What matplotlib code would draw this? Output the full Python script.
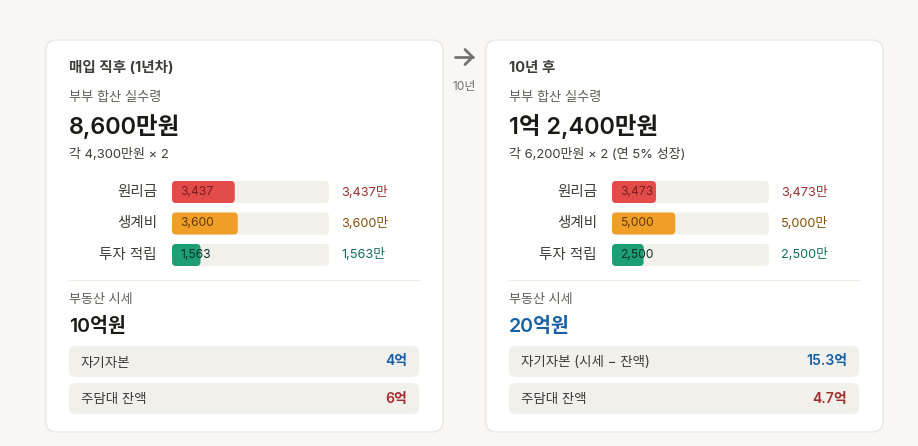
import matplotlib
matplotlib.use("Agg")
import matplotlib.pyplot as plt
from matplotlib.patches import FancyBboxPatch

plt.rcParams['font.family'] = ['Inter', 'Noto Sans CJK KR', 'DejaVu Sans']

# ---- data ----
card_titles = ["매입 직후 (1년차)", "10년 후"]
income_label = "부부 합산 실수령"
income_totals = [8600, 12400]
income_texts = ["8,600만원", "1억 2,400만원"]
income_subs = ["각 4,300만원 × 2", "각 6,200만원 × 2 (연 5% 성장)"]
categories = ["원리금", "생계비", "투자 적립"]
values_start = [3437, 3600, 1563]
values_after = [3473, 5000, 2500]
estate_label = "부동산 시세"
estate_texts = ["10억원", "20억원"]
equity_labels = ["자기자본", "자기자본 (시세 − 잔액)"]
equity_values = ["4억", "15.3억"]
loan_label = "주담대 잔액"
loan_values = ["6억", "4.7억"]
arrow_label = "10년"

# ---- styles ----
BG = "#F8F7F4"
CARD = "#FFFFFF"
EDGE = "#E6E4DD"
TRACK = "#F2F0EA"
bar_colors = ["#E24B4A", "#EF9F27", "#1D9E75"]
inner_colors = ["#791F1F", "#633806", "#04342C"]
value_colors = ["#A32D2D", "#854F0B", "#0F6E56"]
BLUE = "#185FA5"
RED = "#A32D2D"
DARK = "#1A1A18"
MID = "#3D3D3A"
GRAY = "#5F5E5A"

W, H = 918, 446
fig = plt.figure(figsize=(W / 100, H / 100), dpi=100, facecolor=BG)
ax = fig.add_axes([0, 0, 1, 1])
ax.set_xlim(0, W)
ax.set_ylim(H, 0)
ax.axis("off")

card_x = [46, 486]
card_w = 397
card_top, card_bot = 40, 432

def px(v):
    return v * 0.72  # pixel -> points at dpi 100

for c in range(2):
    x0 = card_x[c]
    ax.add_patch(FancyBboxPatch((x0, card_top), card_w, card_bot - card_top,
                                boxstyle="round,pad=0,rounding_size=11",
                                fc=CARD, ec=EDGE, lw=0.8, zorder=1))
    lx = x0 + 23
    ax.text(lx, 68, card_titles[c], fontsize=px(14.6), color=MID,
            fontweight="bold", va="center", ha="left", zorder=3)
    ax.text(lx, 98, income_label, fontsize=px(13.2), color=GRAY,
            va="center", ha="left", zorder=3)
    ax.text(lx, 127, income_texts[c], fontsize=px(23.5), color=DARK,
            fontweight=600, va="center", ha="left", zorder=3)
    ax.text(lx, 154, income_subs[c], fontsize=px(13), color=MID,
            va="center", ha="left", zorder=3)

    # bar chart axes
    vals = values_start if c == 0 else values_after
    total = income_totals[c]
    track_x0 = x0 + 126
    track_w = 157
    pitch = 31.5
    top = 192 - pitch / 2
    bax = fig.add_axes([track_x0 / W, 1 - (top + 3 * pitch) / H,
                        track_w / W, 3 * pitch / H])
    bax.set_xlim(0, total)
    bax.set_ylim(2.5, -0.5)
    bax.axis("off")
    bh = 22 / pitch
    xu = total / track_w
    yu = 1 / pitch
    tracks = bax.barh(range(3), [total] * 3, height=bh)
    bars = bax.barh(range(3), vals, height=bh)
    for group, colors, z in ((tracks, [TRACK] * 3, 1), (bars, bar_colors, 2)):
        for rect, col in zip(group, colors):
            rect.set_visible(False)
            bax.add_patch(FancyBboxPatch((rect.get_x(), rect.get_y()),
                                         rect.get_width(), rect.get_height(),
                                         boxstyle=f"round,pad=0,rounding_size={4 * xu}",
                                         mutation_aspect=yu / xu,
                                         fc=col, ec="none", zorder=z))
    for i, (cat, v) in enumerate(zip(categories, vals)):
        bax.annotate(cat, xy=(0, i), xytext=(-15, 0), textcoords="offset pixels",
                     ha="right", va="center", fontsize=px(14.5), color=MID,
                     annotation_clip=False)
        bax.annotate(f"{v:,}", xy=(0, i), xytext=(8, 0), textcoords="offset pixels",
                     ha="left", va="center", fontsize=px(12.1), color=inner_colors[i],
                     zorder=4, annotation_clip=False)
        bax.annotate(f"{v:,}만", xy=(total, i), xytext=(12, 0), textcoords="offset pixels",
                     ha="left", va="center", fontsize=px(12.8), color=value_colors[i],
                     annotation_clip=False)

    # divider
    ax.plot([lx, x0 + card_w - 24], [280, 280], color="#ECEAE4", lw=0.9, zorder=2)
    ax.text(lx, 300, estate_label, fontsize=px(13), color=GRAY,
            va="center", ha="left", zorder=3)
    ax.text(lx, 326, estate_texts[c], fontsize=px(19.5),
            color=DARK if c == 0 else BLUE, fontweight=600,
            va="center", ha="left", zorder=3)
    rows = [(equity_labels[c], equity_values[c], BLUE, 346),
            (loan_label, loan_values[c], RED, 383)]
    for lab, val, col, yt in rows:
        ax.add_patch(FancyBboxPatch((lx, yt), 350, 31,
                                    boxstyle="round,pad=0,rounding_size=7",
                                    fc=TRACK, ec="none", zorder=2))
        ax.text(lx + 12, yt + 16.5, lab, fontsize=px(13.5), color=MID,
                va="center", ha="left", zorder=3)
        ax.text(lx + 338, yt + 15.5, val, fontsize=px(14), color=col,
                fontweight=600, va="center", ha="right", zorder=3)

# arrow between cards
acol = "#737270"
ax.plot([455, 472.5], [57, 57], color=acol, lw=2, solid_capstyle="round")
ax.plot([465, 472.5, 465], [49.5, 57, 64.5], color=acol, lw=2,
        solid_capstyle="round", solid_joinstyle="round")
ax.text(464, 87, arrow_label, fontsize=px(12), color=acol,
        ha="center", va="center")

fig.savefig("out.png", dpi=100, facecolor=BG)
